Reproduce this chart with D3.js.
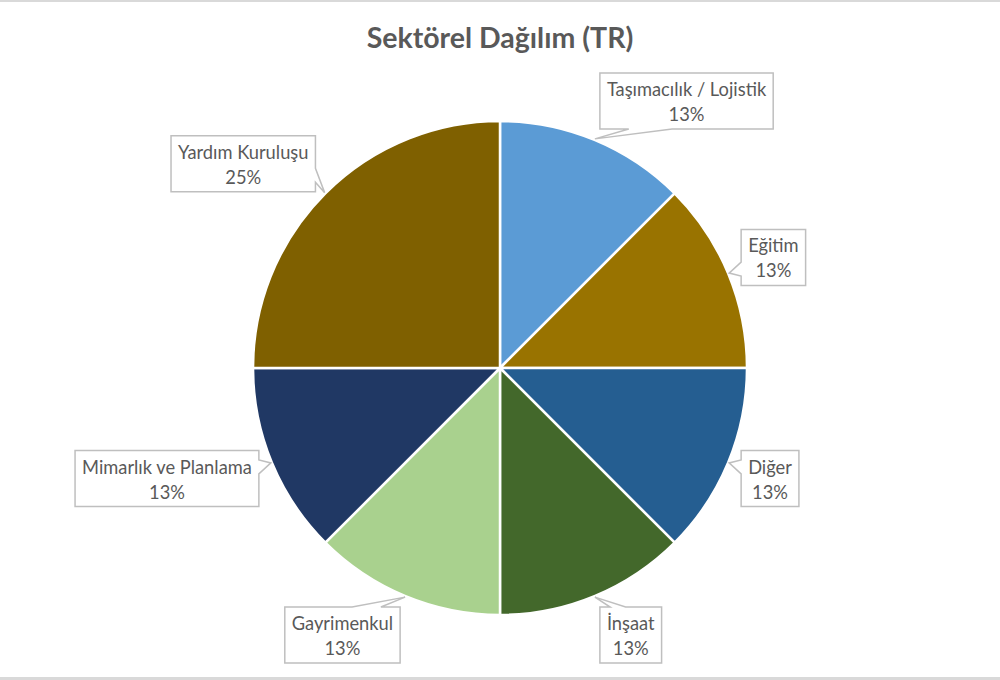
<!DOCTYPE html>
<html><head><meta charset="utf-8">
<script src="https://cdn.jsdelivr.net/npm/d3@7"></script>
<style>body{margin:0;background:#fff}svg{display:block}</style>
</head><body>
<svg id="chart" width="1000" height="680"></svg>
<script>
const title = "Sektörel Dağılım (TR)";
const categories = ["Taşımacılık / Lojistik","Eğitim","Diğer","İnşaat","Gayrimenkul","Mimarlık ve Planlama","Yardım Kuruluşu"];
const values = [1,1,1,1,1,1,2];
const colors = ["#5B9BD5","#997300","#255E91","#43682B","#A9D18E","#203864","#7F6000"];

const W=1000,H=680, cx=500, cy=368, R=247;
const svg=d3.select("#chart");
const font="Lato, 'Noto Sans', sans-serif";

svg.append("rect").attr("x",0).attr("y",0).attr("width",W).attr("height",2).attr("fill","#d9d9d9");
svg.append("rect").attr("x",0).attr("y",677).attr("width",W).attr("height",3).attr("fill","#d9d9d9");

svg.append("text").attr("x",500).attr("y",48).attr("text-anchor","middle")
  .attr("font-family",font).attr("font-weight","bold").attr("font-size",28.5).attr("fill","#595959").text(title);

const total=d3.sum(values);
const data=categories.map((c,i)=>({name:c,value:values[i],color:colors[i]}));
const pie=d3.pie().value(d=>d.value).sort(null);
const arcs=pie(data);
const arc=d3.arc().innerRadius(0).outerRadius(R);
const g=svg.append("g").attr("transform",`translate(${cx},${cy})`);
g.selectAll("path.slice").data(arcs).join("path").attr("class","slice")
  .attr("d",arc).attr("fill",d=>d.data.color).attr("stroke","#fff").attr("stroke-width",2.5).attr("stroke-linejoin","round");

const fmt=v=>Math.round(v/total*100)+"%";
const lg=svg.append("g");
const fs=18.3;
arcs.forEach(a=>{
  const th=(a.startAngle+a.endAngle)/2;
  const sx=Math.sin(th), sy=-Math.cos(th);
  const tip=[cx+(R+1)*sx, cy+(R+1)*sy];
  const anc=[cx+(R+14)*sx, cy+(R+14)*sy];
  const grp=lg.append("g");
  const t1=grp.append("text").attr("font-family",font).attr("font-size",fs).attr("fill","#595959").attr("text-anchor","middle").text(a.data.name);
  const t2=grp.append("text").attr("font-family",font).attr("font-size",fs).attr("fill","#595959").attr("text-anchor","middle").text(fmt(a.data.value));
  const tw=Math.max(t1.node().getComputedTextLength(),t2.node().getComputedTextLength());
  const w=tw+14, h=56;
  const ccx=anc[0]+(sx>=0?1:-1)*w/2;
  const ccy=anc[1]-(h/2)*Math.cos(th);
  const l=ccx-w/2, tp=ccy-h/2, r=l+w, b=tp+h;
  const dx=(tip[0]-ccx)/w, dy=(tip[1]-ccy)/h;
  let pts;
  if(Math.abs(dx)>Math.abs(dy)){
    const base = dy<0 ? [tp+h/6, tp+5*h/12] : [tp+7*h/12, tp+5*h/6];
    if(dx<0){
      pts=[[l,tp],[r,tp],[r,b],[l,b],[l,base[1]],tip,[l,base[0]]];
    } else {
      pts=[[l,tp],[r,tp],[r,base[0]],tip,[r,base[1]],[r,b],[l,b]];
    }
  } else {
    const base = dx<0 ? [l+w/6, l+5*w/12] : [l+7*w/12, l+5*w/6];
    if(dy>0){
      pts=[[l,tp],[r,tp],[r,b],[base[1],b],tip,[base[0],b],[l,b]];
    } else {
      pts=[[l,tp],[base[0],tp],tip,[base[1],tp],[r,tp],[r,b],[l,b]];
    }
  }
  grp.insert("path","text").attr("d",d3.line()(pts)+"Z").attr("fill","#fff").attr("stroke","#bfbfbf").attr("stroke-width",1.5);
  t1.attr("x",ccx).attr("y",ccy-5);
  t2.attr("x",ccx).attr("y",ccy+20);
});
</script>
</body></html>
